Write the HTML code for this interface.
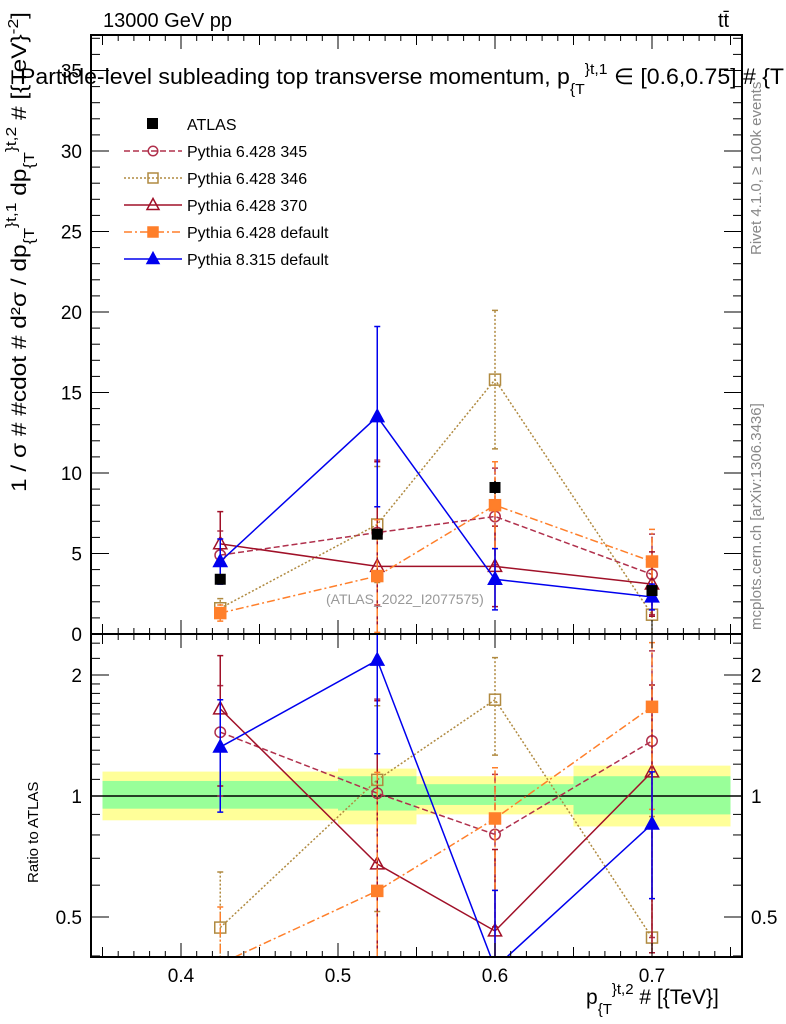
<!DOCTYPE html>
<html><head><meta charset="utf-8">
<style>
html,body{margin:0;padding:0;background:#fff;width:786px;height:1024px;overflow:hidden;}
svg{display:block;font-family:"Liberation Sans",Arial,sans-serif;}
</style></head>
<body>
<svg id="chart" width="786" height="1024" viewBox="0 0 786 1024" xmlns="http://www.w3.org/2000/svg">
<defs><clipPath id="clipMain"><rect x="91" y="35" width="651" height="599"/></clipPath>
<clipPath id="clipRatio"><rect x="91" y="634" width="651" height="323"/></clipPath>
<clipPath id="clipAll"><rect x="0" y="0" width="786" height="1024"/></clipPath></defs>
<g clip-path="url(#clipAll)">
<g id="bands" clip-path="url(#clipRatio)"></g>
<g id="marks-main" clip-path="url(#clipMain)"></g>
<g id="marks-ratio" clip-path="url(#clipRatio)"></g>
<g id="axes"></g>
<text x="103" y="27" font-size="20">13000 GeV pp</text>
<text x="718" y="27" font-size="20">tt̄</text>
<text x="20" y="84" font-size="22" textLength="764" lengthAdjust="spacingAndGlyphs">Particle-level subleading top transverse momentum, p<tspan font-size="15" dy="10">{T</tspan><tspan font-size="15" dy="-20">}t,1</tspan><tspan dy="10"> ∈ [0.6,0.75] # {T</tspan></text>
<text transform="translate(26,492) rotate(-90)" font-size="21" textLength="480" lengthAdjust="spacingAndGlyphs">1 / σ # #cdot # d²σ / dp<tspan font-size="15" dy="8">{T</tspan><tspan font-size="15" dy="-18">}t,1</tspan><tspan dy="10"> dp</tspan><tspan font-size="15" dy="8">{T</tspan><tspan font-size="15" dy="-18">}t,2</tspan><tspan dy="10"> # [{TeV}</tspan><tspan font-size="15" dy="-8">-2</tspan><tspan dy="8">]</tspan></text>
<text transform="translate(38,883) rotate(-90)" font-size="15">Ratio to ATLAS</text>
<text x="586" y="1004" font-size="21">p<tspan font-size="15" dy="10">{T</tspan><tspan font-size="15" dy="-20">}t,2</tspan><tspan dy="10"> # [{TeV}]</tspan></text>
<text transform="translate(761,255) rotate(-90)" font-size="15" fill="#888">Rivet 4.1.0, ≥ 100k events</text>
<text transform="translate(761,630) rotate(-90)" font-size="15" fill="#888">mcplots.cern.ch [arXiv:1306.3436]</text>
<text x="326" y="604" font-size="14" fill="#999">(ATLAS_2022_I2077575)</text>
<g id="legend"></g>
</g>
</svg>
<script>
const xCenters=[0.425,0.525,0.6,0.7];
const binEdges=[0.35,0.5,0.55,0.65,0.75];
const atlasVals=[3.4,6.2,9.1,2.7];
const atlasErr=[0.3,0.3,0.4,0.3];
const p345=[4.9,6.3,7.3,3.7];
const p345Err=[1.5,4.5,3.0,2.5];
const p346=[1.6,6.8,15.8,1.2];
const p346Err=[0.6,3.6,4.3,1.2];
const p370=[5.6,4.2,4.2,3.1];
const p370Err=[2.0,6.5,2.5,2.0];
const p6def=[1.3,3.6,8.0,4.5];
const p6defErr=[0.5,3.5,2.7,2.0];
const p8def=[4.5,13.5,3.4,2.3];
const p8defErr=[1.4,5.6,1.9,0.8];
const yellowHi=[1.15,1.17,1.12,1.19];
const yellowLo=[0.87,0.85,0.9,0.84];
const greenHi=[1.09,1.12,1.07,1.12];
const greenLo=[0.93,0.92,0.95,0.9];
const xTicks=[0.4,0.5,0.6,0.7];
const yTicks=[0,5,10,15,20,25,30,35];
const rTicks=[0.5,1,2];

const NS="http://www.w3.org/2000/svg";
const X=v=>181+(v-0.4)*1570;
const Y=v=>634-v*16.1;
const R=v=>796-Math.log2(v)*121;
function mk(tag,attrs,parent){const e=document.createElementNS(NS,tag);for(const k in attrs)e.setAttribute(k,attrs[k]);parent.appendChild(e);return e;}
const gM=document.getElementById('marks-main'),gR=document.getElementById('marks-ratio'),gA=document.getElementById('axes'),gB=document.getElementById('bands'),gL=document.getElementById('legend');

for(let i=0;i<4;i++){
  const x0=X(binEdges[i]),x1=X(binEdges[i+1]);
  let r=mk('rect',{x:x0,y:R(yellowHi[i]),width:x1-x0,height:R(yellowLo[i])-R(yellowHi[i]),fill:'#ffff99'},gB);
  
  
  r=mk('rect',{x:x0,y:R(greenHi[i]),width:x1-x0,height:R(greenLo[i])-R(greenHi[i]),fill:'#99ff99'},gB);
  
  
}
let l1=mk('line',{x1:91,x2:742,y1:R(1),y2:R(1),stroke:'#000','stroke-width':1.5},gB);



const series=[
 {name:'Pythia 6.428 345',vals:p345,err:p345Err,color:'#b0304c',dash:'6,3',marker:'circle',fill:false},
 {name:'Pythia 6.428 346',vals:p346,err:p346Err,color:'#b08a40',dash:'2,2',marker:'square',fill:false},
 {name:'Pythia 6.428 370',vals:p370,err:p370Err,color:'#a01028',dash:'',marker:'triangle',fill:false},
 {name:'Pythia 6.428 default',vals:p6def,err:p6defErr,color:'#ff7f2a',dash:'8,3,2,3',marker:'square',fill:true},
 {name:'Pythia 8.315 default',vals:p8def,err:p8defErr,color:'#0000ee',dash:'',marker:'triangle',fill:true}
];
function marker(g,type,x,y,color,fill,s){
  let e;
  if(type==='circle')e=mk('circle',{cx:x,cy:y,r:s*0.95,fill:'none',stroke:color,'stroke-width':1.5},g);
  else if(type==='square')e=mk('rect',{x:x-s,y:y-s,width:2*s,height:2*s,fill:fill?color:'none',stroke:color,'stroke-width':1.5},g);
  else e=mk('polygon',{points:`${x},${y-s*1.3} ${x-s*1.2},${y+s*0.9} ${x+s*1.2},${y+s*0.9}`,fill:fill?color:'none',stroke:color,'stroke-width':1.5},g);
  return e;
}
function drawSeries(g,s,ys,errs,Yf,key){
  const pts=ys.map((v,i)=>X(xCenters[i])+','+Yf(v)).join(' ');
  const pl=mk('polyline',{points:pts,fill:'none',stroke:s.color,'stroke-width':1.5,'stroke-dasharray':s.dash},g);
  
  
  ys.forEach((v,i)=>{
    const x=X(xCenters[i]);
    const lo=Math.max(v-errs[i],1e-3),hi=v+errs[i];
    const eb=mk('line',{x1:x,x2:x,y1:Yf(lo),y2:Yf(hi),stroke:s.color,'stroke-width':1.5,'stroke-dasharray':s.dash},g);
    
    
    const cap=mk('path',{d:`M${x-3},${Yf(lo)}H${x+3}M${x-3},${Yf(hi)}H${x+3}`,stroke:s.color,'stroke-width':1.5},g);
    
    
    const m=marker(g,s.marker,x,Yf(v),s.color,s.fill,5.5);
    
    
  });
}
series.forEach((s,k)=>{
  const key='series-'+k;
  drawSeries(gM,s,s.vals,s.err,Y,key);
  drawSeries(gR,s,s.vals.map((v,i)=>v/atlasVals[i]),s.err.map((e,i)=>e/atlasVals[i]),R,key+'-ratio');
});
atlasVals.forEach((v,i)=>{
  const x=X(xCenters[i]);
  const eb=mk('line',{x1:x,x2:x,y1:Y(v-atlasErr[i]),y2:Y(v+atlasErr[i]),stroke:'#000','stroke-width':1.5},gM);
  
  
  const r=mk('rect',{x:x-5.5,y:Y(v)-5.5,width:11,height:11,fill:'#000'},gM);
  
  
});

[[35,634],[634,957]].forEach(([t,b])=>{
  const fr=mk('rect',{x:91,y:t,width:651,height:b-t,fill:'none',stroke:'#000','stroke-width':2},gA);
  
  
});
for(let k=35;k<=75;k++){
  const v=k/100,x=X(v);
  const major=k%10===0,mid=k%5===0;
  const len=major?14:(mid?10:6);
  [[35,1],[634,1],[634,-1],[957,-1]].forEach(([y0,d])=>{
    mk('line',{x1:x,x2:x,y1:y0,y2:y0+d*len,stroke:'#000','stroke-width':1},gA);
  });
}
xTicks.forEach(v=>{
  const t=mk('text',{x:X(v),y:982,'font-size':19,'text-anchor':'middle'},gA);
  t.textContent=v.toFixed(1);
  
  
});
for(let v=0;v<=37;v++){
  const y=Y(v),len=v%5===0?18:9;
  mk('line',{x1:91,x2:91+len,y1:y,y2:y,stroke:'#000'},gA);
  mk('line',{x1:742,x2:742-len,y1:y,y2:y,stroke:'#000'},gA);
}
yTicks.forEach(v=>{
  const t=mk('text',{x:82,y:Y(v)+7,'font-size':19,'text-anchor':'end'},gA);
  t.textContent=v;
  
  
});
[0.4,0.5,0.6,0.7,0.8,0.9,1,2].forEach(v=>{
  const y=R(v),len=(v===0.5||v===1||v===2)?18:9;
  mk('line',{x1:91,x2:91+len,y1:y,y2:y,stroke:'#000'},gA);
  mk('line',{x1:742,x2:742-len,y1:y,y2:y,stroke:'#000'},gA);
});
[1.1,1.2,1.3,1.4,1.5,1.6,1.7,1.8,1.9,2.2,2.4].forEach(v=>{
  const y=R(v);
  mk('line',{x1:91,x2:100,y1:y,y2:y,stroke:'#000'},gA);
  mk('line',{x1:742,x2:733,y1:y,y2:y,stroke:'#000'},gA);
});
rTicks.forEach(v=>{
  const lab=String(v);
  let t=mk('text',{x:82,y:R(v)+7,'font-size':19,'text-anchor':'end'},gA);
  t.textContent=lab;
  
  
  t=mk('text',{x:751,y:R(v)+7,'font-size':19},gA);
  t.textContent=lab;
  
  
});
const legY=[124,151,178,205,232,259];
let g0=mk('g',{},gL);


mk('rect',{x:147,y:118,width:11,height:11,fill:'#000'},g0);
let lt=mk('text',{x:187,y:130,'font-size':16},g0);lt.textContent='ATLAS';
series.forEach((s,k)=>{
  const y=legY[k+1];
  const g=mk('g',{},gL);
  
  
  mk('line',{x1:124,x2:182,y1:y,y2:y,stroke:s.color,'stroke-width':1.5,'stroke-dasharray':s.dash},g);
  marker(g,s.marker,153,y,s.color,s.fill,5);
  const t=mk('text',{x:187,y:y+6,'font-size':16},g);
  t.textContent=s.name;
});
</script>
</body></html>
